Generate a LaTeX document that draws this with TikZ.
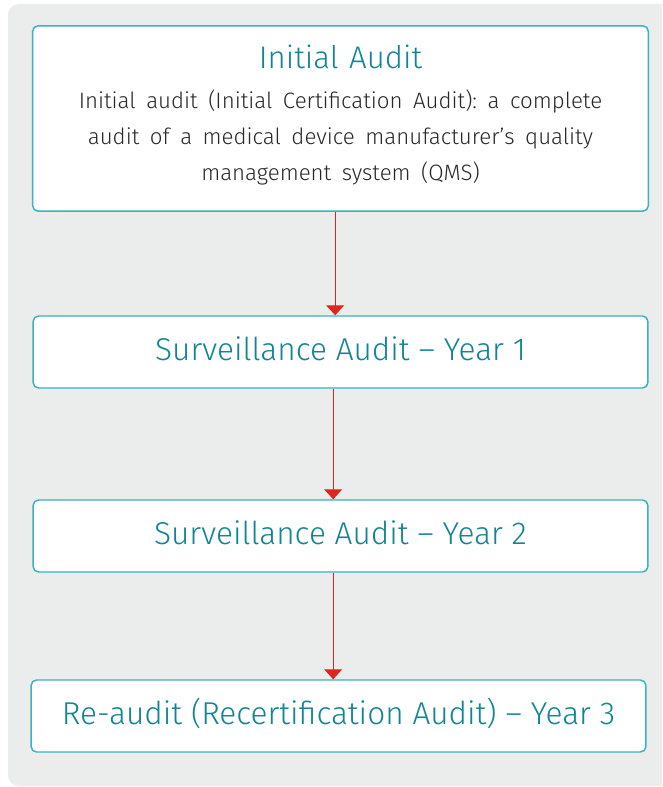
\documentclass[tikz,border=0pt]{standalone}
\usepackage{xcolor}
\usepackage{fontspec}
\setmainfont{Fira Sans Light}
\usepackage{tikz}
\usetikzlibrary{arrows.meta, positioning, calc}
\definecolor{mybg}{RGB}{235,236,236}
\definecolor{myteal}{RGB}{17,133,146}
\definecolor{myborder}{RGB}{58,178,194}
\definecolor{mytext}{RGB}{40,40,40}
\definecolor{myred}{RGB}{222,38,30}
\frenchspacing
\tikzset{
  auditbox/.style={rectangle, draw=myborder, fill=white, rounded corners=4pt,
    line width=1.1pt, minimum width=461pt, minimum height=54pt,
    text height=18pt, text depth=6pt,
    align=center, text=myteal, font=\fontsize{23.7}{27}\selectfont},
  flowarrow/.style={-{Triangle[length=7.5pt, width=13.5pt]}, line width=0.8pt, color=myred},
}

\begin{document}
\begin{tikzpicture}[x=0.75pt, y=-0.75pt]
  \useasboundingbox (0,0) rectangle (662,787);
  \clip (0,0) rectangle (662,787);
  % Background panel
  \fill[mybg, rounded corners=8pt] (8,4) rectangle (690,786);

  % Audit steps
  \node[auditbox, minimum height=139pt, text width=455pt, text height=, text depth=] (initial) at (340.5,118.5)
    {\fontsize{23.4}{27}\selectfont Initial Audit\\[2.5pt]
     {\color{mytext}\fontsize{16.7}{27}\selectfont Initial audit (Initial Certification Audit): a complete\\
      audit of a medical device manufacturer’s quality\\
      management system (QMS)\rule[-8.5pt]{0pt}{8.5pt}\par}};
  \node[auditbox] (year1) at (340.5,352) {Surveillance Audit -- Year 1};
  \node[auditbox] (year2) at (340.5,536) {Surveillance Audit -- Year 2};
  \node[auditbox] (year3) at (338.5,716) {Re-audit (Recertification Audit) -- Year 3};

  % Flow
  \draw[flowarrow] ([xshift=-4pt]initial.south) -- ([xshift=-4pt]year1.north);
  \draw[flowarrow] ([xshift=-5.5pt]year1.south) -- ([xshift=-5.5pt]year2.north);
  \draw[flowarrow] ([xshift=-5.5pt]year2.south) -- ([xshift=-4pt]year3.north);
\end{tikzpicture}
\end{document}
